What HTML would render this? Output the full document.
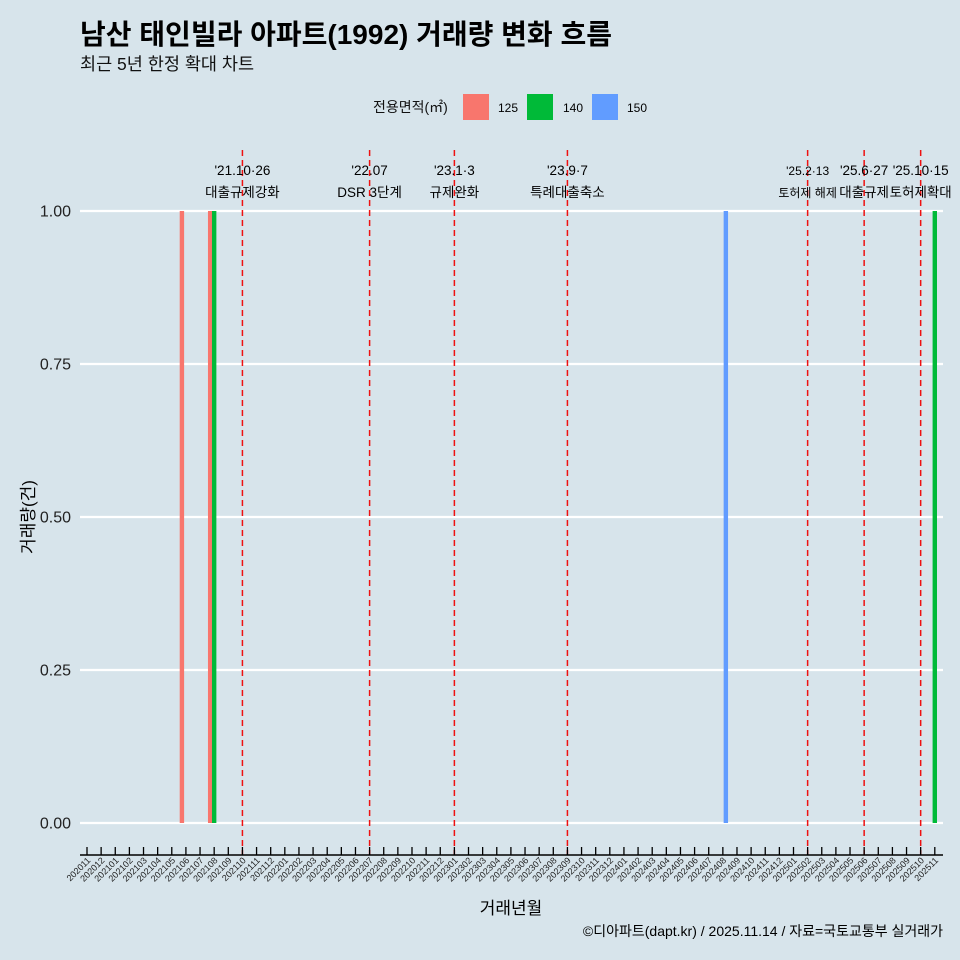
<!DOCTYPE html>
<html><head><meta charset="utf-8"><style>
body{margin:0;background:#d7e4eb;}
svg{display:block;font-family:"Liberation Sans","Noto Sans CJK KR",sans-serif;}
</style></head><body>
<svg id="c" width="960" height="960" viewBox="0 0 960 960">
<rect width="960" height="960" fill="#d7e4eb"/>
<text x="80" y="44" font-size="28" font-weight="bold" fill="#000">남산 태인빌라 아파트(1992) 거래량 변화 흐름</text>
<text x="80" y="70" font-size="17.5" fill="#111">최근 5년 한정 확대 차트</text>
<g>
<text x="373" y="112" font-size="14" fill="#111">전용면적(㎡)</text>
<rect x="463" y="94" width="26" height="26" fill="#f8766d"/>
<text x="498" y="112" font-size="12">125</text>
<rect x="527" y="94" width="26" height="26" fill="#00ba38"/>
<text x="563" y="112" font-size="12">140</text>
<rect x="592" y="94" width="26" height="26" fill="#619cff"/>
<text x="627" y="112" font-size="12">150</text>
</g>
<g id="grid"></g><g id="ylab"></g><g id="events"></g><g id="bars"></g><g id="xaxis"></g>
<text transform="translate(34,517) rotate(-90)" text-anchor="middle" font-size="17">거래량(건)</text>
<text x="511" y="914" text-anchor="middle" font-size="17">거래년월</text>
<text x="943" y="936" text-anchor="end" font-size="14">©디아파트(dapt.kr) / 2025.11.14 / 자료=국토교통부 실거래가</text>
</svg>
<script>
const months=[];for(let y=2020,m=11;y<2025||(y===2025&&m<=11);){months.push(y+String(m).padStart(2,'0'));m++;if(m>12){m=1;y++;}}
const yTicks=[0,0.25,0.5,0.75,1];
const yTickLabels=["0.00","0.25","0.50","0.75","1.00"];
const barMonths=["202106","202108","202108","202408","202511"];
const barGroups=["125","125","140","150","140"];
const barValues=[1,1,1,1,1];
const eventMonths=["202110","202207","202301","202309","202502","202506","202510"];
const eventDates=["'21.10·26","'22.07","'23.1·3","'23.9·7","'25.2·13","'25.6·27","'25.10·15"];
const eventNames=["대출규제강화","DSR 3단계","규제완화","특례대출축소","토허제 해제","대출규제","토허제확대"];
const colors={"125":"#f8766d","140":"#00ba38","150":"#619cff"};
const offs={"125":-4,"140":0,"150":3};
const NS="http://www.w3.org/2000/svg";
const X=m=>87+months.indexOf(m)*14.13;
const Y=v=>823-v*612;
function mk(t,a,p){const e=document.createElementNS(NS,t);for(const k in a)e.setAttribute(k,a[k]);p.appendChild(e);return e;}
const g=document.getElementById('grid'),yl=document.getElementById('ylab');
yTicks.forEach((v,i)=>{
 const l=mk('line',{x1:80,x2:943,y1:Y(v),y2:Y(v),stroke:'#fff','stroke-width':2.2},g);
 
 
 const t=mk('text',{x:71,y:Y(v)+5.5,'text-anchor':'end','font-size':16,fill:'#222'},yl);t.textContent=yTickLabels[i];
 
 
});
const ev=document.getElementById('events');
eventMonths.forEach((m,i)=>{
 const x=X(m);
 const l=mk('line',{x1:x,x2:x,y1:150,y2:855,stroke:'#ee1111','stroke-width':1.5,'stroke-dasharray':'6,4'},ev);
 
 
 const fs=(m==="202502")?12:13.5;
 const t1=mk('text',{x:x,y:175,'text-anchor':'middle','font-size':fs},ev);t1.textContent=eventDates[i];
 
 
 const t2=mk('text',{x:x,y:197,'text-anchor':'middle','font-size':fs},ev);t2.textContent=eventNames[i];
 
 
});
const b=document.getElementById('bars');
barMonths.forEach((m,i)=>{
 const x=X(m)+offs[barGroups[i]];
 const r=mk('rect',{x:x-2.2,y:Y(barValues[i]),width:4.4,height:Y(0)-Y(barValues[i]),fill:colors[barGroups[i]]},b);
 
 
});
const xa=document.getElementById('xaxis');
const al=mk('line',{x1:80,x2:943,y1:855,y2:855,stroke:'#000','stroke-width':1.5},xa);


months.forEach(m=>{
 const x=X(m);
 mk('line',{x1:x,x2:x,y1:847,y2:855,stroke:'#000','stroke-width':1.3},xa);
 const t=mk('text',{x:0,y:0,'text-anchor':'end','font-size':9,fill:'#222',transform:`translate(${x+4},861) rotate(-45)`},xa);t.textContent=m;
 
 
});
</script>
</body></html>
